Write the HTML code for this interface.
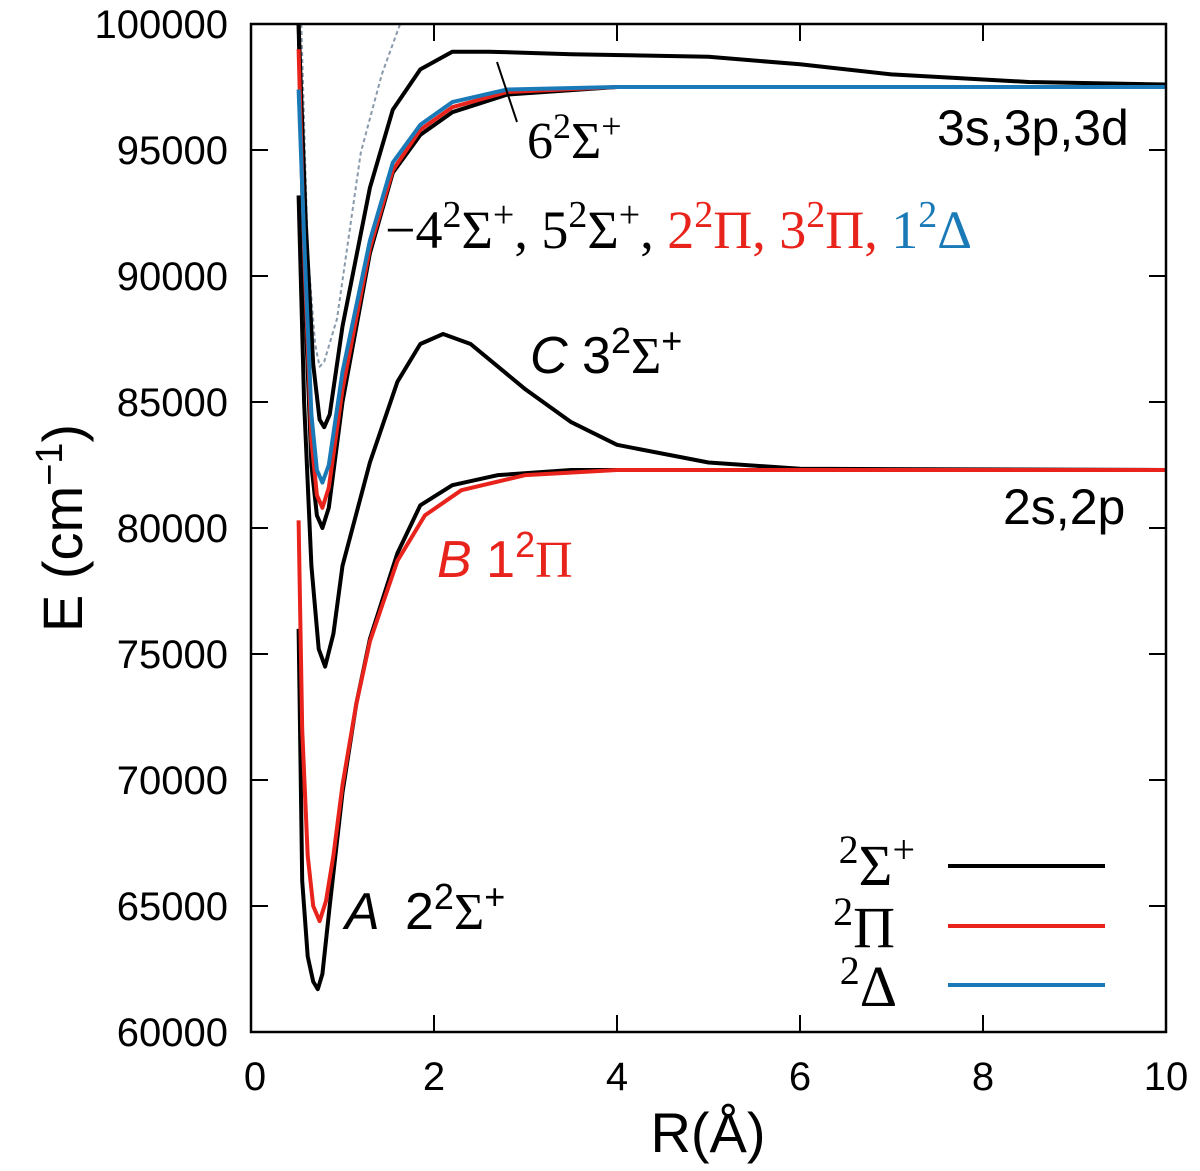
<!DOCTYPE html>
<html><head><meta charset="utf-8"><style>
body{margin:0;background:#fff}
svg{display:block;font-family:"Liberation Sans",sans-serif}
.ser{font-family:"Liberation Serif",serif}
</style></head><body>
<svg id="chart" width="1200" height="1171" viewBox="0 0 1200 1171">
<g id="marks"></g>
<g id="axes"></g>
<g font-size="52">
<line x1="497" y1="62" x2="517" y2="122" stroke="#000" stroke-width="2"/>
<text class="ser" x="527" y="158">6<tspan dy="-20" font-size="36">2</tspan><tspan dy="20">Σ</tspan><tspan dy="-20" font-size="36">+</tspan></text>
<text x="937" y="145" font-size="50">3s,3p,3d</text>
<text class="ser" x="385" y="248" font-size="54">−4<tspan dy="-21" font-size="38">2</tspan><tspan dy="21">Σ</tspan><tspan dy="-21" font-size="38">+</tspan><tspan dy="21">, 5</tspan><tspan dy="-21" font-size="38">2</tspan><tspan dy="21">Σ</tspan><tspan dy="-21" font-size="38">+</tspan><tspan dy="21">, </tspan><tspan fill="#e8231b">2</tspan><tspan fill="#e8231b" dy="-21" font-size="38">2</tspan><tspan fill="#e8231b" dy="21">Π, 3</tspan><tspan fill="#e8231b" dy="-21" font-size="38">2</tspan><tspan fill="#e8231b" dy="21">Π, </tspan><tspan fill="#1a7ab8">1</tspan><tspan fill="#1a7ab8" dy="-21" font-size="38">2</tspan><tspan fill="#1a7ab8" dy="21">Δ</tspan></text>
<text x="530" y="373"><tspan font-style="italic">C</tspan> 3<tspan dy="-20" font-size="36">2</tspan><tspan class="ser" dy="20">Σ</tspan><tspan dy="-20" font-size="36">+</tspan></text>
<text x="1003" y="524" font-size="50">2s,2p</text>
<text x="437" y="577" fill="#e8231b"><tspan font-style="italic">B</tspan> 1<tspan dy="-20" font-size="36">2</tspan><tspan class="ser" dy="20">Π</tspan></text>
<text x="345" y="929"><tspan font-style="italic">A</tspan><tspan x="405">2</tspan><tspan dy="-20" font-size="36">2</tspan><tspan class="ser" dy="20">Σ</tspan><tspan dy="-20" font-size="36">+</tspan></text>
</g>
<g>
<text class="ser" x="915" y="885" font-size="58" text-anchor="end"><tspan dy="-22" font-size="40">2</tspan><tspan dy="22">Σ</tspan><tspan dy="-22" font-size="40">+</tspan></text>
<line x1="948" y1="866" x2="1105" y2="866" stroke="#000" stroke-width="4"/>
<text class="ser" x="895" y="947" font-size="58" text-anchor="end"><tspan dy="-22" font-size="40">2</tspan><tspan dy="22">Π</tspan></text>
<line x1="948" y1="926" x2="1105" y2="926" stroke="#e8231b" stroke-width="4"/>
<text class="ser" x="897" y="1006" font-size="58" text-anchor="end"><tspan dy="-22" font-size="40">2</tspan><tspan dy="22">Δ</tspan></text>
<line x1="948" y1="985" x2="1105" y2="985" stroke="#1a7ab8" stroke-width="4"/>
</g>
<text x="708" y="1152" font-size="56" text-anchor="middle">R(Å)</text>
<text transform="translate(82,528) rotate(-90)" font-size="56" text-anchor="middle">E (cm<tspan dy="-20" font-size="38">−1</tspan><tspan dy="20">)</tspan></text>
</svg>
<script>
const xTicks=[0,2,4,6,8,10];
const yTicks=[60000,65000,70000,75000,80000,85000,90000,95000,100000];
const rA=[0.52,0.56,0.62,0.68,0.73,0.78,0.86,1.0,1.15,1.3,1.6,1.85,2.2,2.7,3.5,6,10];
const eA=[76000,66000,63000,62000,61700,62300,65000,69500,73000,75600,79000,80900,81700,82100,82300,82300,82300];
const rB=[0.52,0.56,0.62,0.68,0.75,0.82,0.9,1.0,1.15,1.3,1.6,1.9,2.3,3,4,10];
const eB=[80300,72000,67000,65000,64400,65200,67000,69800,73000,75500,78700,80500,81500,82100,82300,82300];
const rC=[0.52,0.58,0.66,0.74,0.81,0.9,1.0,1.3,1.6,1.85,2.1,2.4,3,3.5,4,5,6,10];
const eC=[93200,85000,78500,75200,74500,75800,78500,82600,85800,87300,87700,87300,85500,84200,83300,82600,82350,82300];
const r4=[0.52,0.58,0.66,0.72,0.78,0.85,1.0,1.3,1.55,1.85,2.2,2.8,4,10];
const e4=[100000,90000,82500,80500,80000,80800,85000,90900,94100,95600,96500,97200,97500,97500];
const e2Pi=[99000,91000,83500,81300,80800,81600,85500,91100,94200,95800,96700,97300,97500,97500];
const e1Delta=[97400,91500,84500,82300,81800,82500,86200,91400,94500,96000,96900,97400,97500,97500];
const r6=[0.52,0.6,0.68,0.75,0.8,0.86,1.0,1.3,1.55,1.85,2.2,2.6,3.5,5,6,7,8.5,10];
const e6=[100000,92000,86500,84300,84000,84500,88000,93500,96600,98200,98900,98900,98800,98700,98400,98000,97700,97600];
const rD=[0.55,0.62,0.7,0.75,0.8,0.94,1.2,1.43,1.63];
const eD=[100000,91000,87300,86400,86600,88300,94900,98000,100000];
const X=r=>251+r*91.5, Y=e=>24+(100000-e)*0.0252;
const ns='http://www.w3.org/2000/svg';
const marks=document.getElementById('marks'), axes=document.getElementById('axes');
function line(rs,es,color,w,name,dash){
  const p=document.createElementNS(ns,'polyline');
  p.setAttribute('points',rs.map((r,i)=>X(r).toFixed(1)+','+Y(es[i]).toFixed(1)).join(' '));
  p.setAttribute('fill','none');p.setAttribute('stroke',color);p.setAttribute('stroke-width',w);
  p.setAttribute('stroke-linejoin','round');
  if(dash)p.setAttribute('stroke-dasharray',dash);
  
  
  marks.appendChild(p);
}
line(rD,eD,'#8899aa',2,'dotted-curve','4 3');
line(r6,e6,'#000',4,'curve-6-sigma');
line(r4,e4,'#000',4,'curve-4-5-sigma');
line(r4,e2Pi,'#e8231b',4,'curve-2-3-pi');
line(r4,e1Delta,'#1a7ab8',4,'curve-1-delta');
line(rC,eC,'#000',4,'curve-C-3-sigma');
line(rA,eA,'#000',4,'curve-A-2-sigma');
line(rB,eB,'#e8231b',4,'curve-B-1-pi');
function el(tag,attrs,name,txt){const e=document.createElementNS(ns,tag);for(const k in attrs)e.setAttribute(k,attrs[k]);
  
  
  if(txt!==undefined)e.textContent=txt;axes.appendChild(e);return e;}
el('rect',{x:X(0),y:Y(100000),width:X(10)-X(0),height:Y(60000)-Y(100000),fill:'none',stroke:'#000','stroke-width':2.5},'plot-frame');
xTicks.forEach(t=>{const x=X(t);
  el('line',{x1:x,x2:x,y1:Y(60000),y2:Y(60000)-17,stroke:'#000','stroke-width':2},'x-tick');
  el('line',{x1:x,x2:x,y1:Y(100000),y2:Y(100000)+17,stroke:'#000','stroke-width':2},'x-tick-top');
  el('text',{x:x+(t===0?4:0),y:1090,'font-size':40,'text-anchor':'middle'},'x-tick-label',String(t));});
yTicks.forEach(t=>{const y=Y(t);
  el('line',{x1:X(0),x2:X(0)+17,y1:y,y2:y,stroke:'#000','stroke-width':2},'y-tick');
  el('line',{x1:X(10),x2:X(10)-17,y1:y,y2:y,stroke:'#000','stroke-width':2},'y-tick-right');
  el('text',{x:228,y:y+14,'font-size':40,'text-anchor':'end'},'y-tick-label',String(t));});
</script>
</body></html>
